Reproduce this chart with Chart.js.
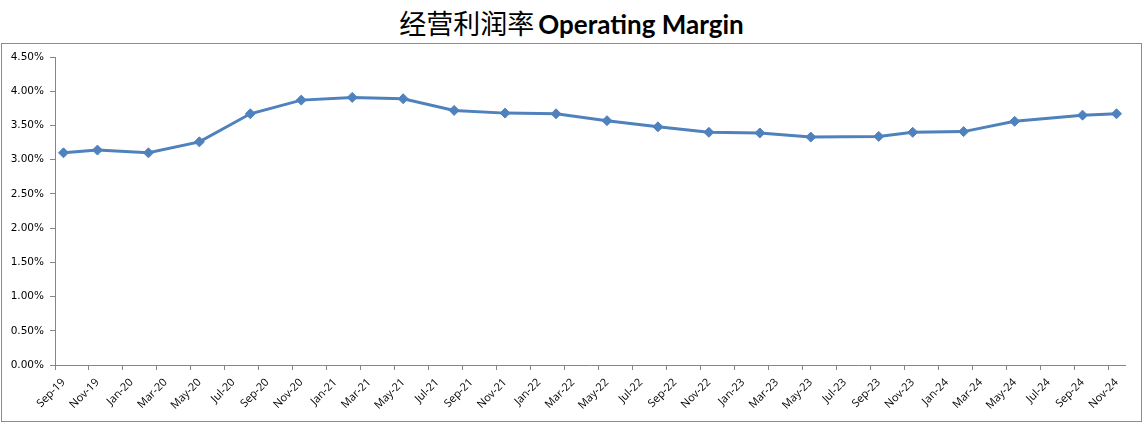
<!DOCTYPE html>
<html>
<head>
<meta charset="utf-8">
<script src="https://cdn.jsdelivr.net/npm/chart.js@4/dist/chart.umd.min.js"></script>
<style>
  html, body { margin: 0; padding: 0; background: #fff; width: 1143px; height: 429px; overflow: hidden; }
  #title { position: absolute; left: 0; top: 7px; width: 1143px; text-align: center; white-space: nowrap; color: #000; line-height: 32px; }
  #title .zh { font-family: "Noto Sans CJK SC", sans-serif; font-size: 27px; font-weight: normal; }
  #title .en { font-family: Lato, "Open Sans", sans-serif; font-size: 26px; font-weight: bold; }
  #box { position: absolute; left: 1px; top: 43px; width: 1141px; height: 379px; box-sizing: border-box; border: 1px solid #8c8c8c; background: #fff; }
  canvas { display: block; }
</style>
</head>
<body>
<div id="title"><span class="zh">经营利润率</span> <span class="en">Operating Margin</span></div>
<div id="box"><canvas id="c" width="1139" height="377"></canvas></div>
<script>
// ---- data ----
const axisStart = 'Sep-19';
const axisEnd = 'Nov-24';
const pointDates = ['Sep-19','Nov-19','Feb-20','May-20','Aug-20','Nov-20','Feb-21','May-21','Aug-21','Nov-21','Feb-22','May-22','Aug-22','Nov-22','Feb-23','May-23','Sep-23','Nov-23','Feb-24','May-24','Sep-24','Nov-24'];
const marginValues = [3.10, 3.14, 3.10, 3.26, 3.67, 3.87, 3.91, 3.89, 3.72, 3.68, 3.67, 3.57, 3.48, 3.40, 3.39, 3.33, 3.34, 3.40, 3.41, 3.56, 3.65, 3.67];
const yTicks = [0, 0.5, 1.0, 1.5, 2.0, 2.5, 3.0, 3.5, 4.0, 4.5];
const monthNames = ['Jan','Feb','Mar','Apr','May','Jun','Jul','Aug','Sep','Oct','Nov','Dec'];

// monthly category list (axis is a date axis, one slot per month)
function parseMonth(s) { const [m, y] = s.split('-'); return (2000 + +y) * 12 + monthNames.indexOf(m); }
function fmtMonth(k) { return monthNames[k % 12] + '-' + String(Math.floor(k / 12) % 100).padStart(2, '0'); }
const months = [];
for (let k = parseMonth(axisStart); k <= parseMonth(axisEnd); k++) months.push(fmtMonth(k));
const seriesData = months.map(m => { const i = pointDates.indexOf(m); return i >= 0 ? marginValues[i] : null; });

const axisColor = '#868686';
const lineColor = '#4F81BD';

new Chart(document.getElementById('c'), {
  type: 'line',
  data: {
    labels: months,
    datasets: [{
      data: seriesData,
      spanGaps: true,
      borderColor: lineColor,
      backgroundColor: lineColor,
      borderWidth: 3,
      pointStyle: 'rectRot',
      pointRadius: 5,
      pointBorderWidth: 1,
      pointBackgroundColor: lineColor,
      pointBorderColor: lineColor,
      tension: 0
    }]
  },
  options: {
    responsive: false,
    animation: false,
    layout: { padding: { left: 0, right: 16, top: 13, bottom: 0 } },
    plugins: { legend: { display: false }, tooltip: { enabled: false }, title: { display: false } },
    scales: {
      x: {
        type: 'category',
        offset: true,
        afterFit: s => { s.height = 56; },
        border: { display: true, color: axisColor, width: 1 },
        grid: {
          display: true, offset: true, drawOnChartArea: false, drawTicks: true, tickLength: 5,
          color: ctx => (ctx.index % 2 === 0 ? axisColor : 'rgba(0,0,0,0)'), lineWidth: 1
        },
        ticks: {
          autoSkip: false, maxRotation: 45, minRotation: 45, padding: 6,
          color: '#000',
          font: { family: '"Open Sans", "Liberation Sans", sans-serif', size: 11 },
          callback: (v, i) => (i % 2 === 0 ? months[i] : '')
        }
      },
      y: {
        min: yTicks[0], max: yTicks[yTicks.length - 1],
        afterFit: s => { s.width = 53; },
        afterBuildTicks: s => { s.ticks = yTicks.map(v => ({ value: v })); },
        border: { display: true, color: axisColor, width: 1 },
        grid: { display: true, drawOnChartArea: false, drawTicks: true, tickLength: 5, color: axisColor },
        ticks: {
          padding: 6, color: '#000',
          font: { family: '"DejaVu Sans", sans-serif', size: 10.5 },
          callback: v => v.toFixed(2) + '%'
        }
      }
    }
  }
});
</script>
</body>
</html>
